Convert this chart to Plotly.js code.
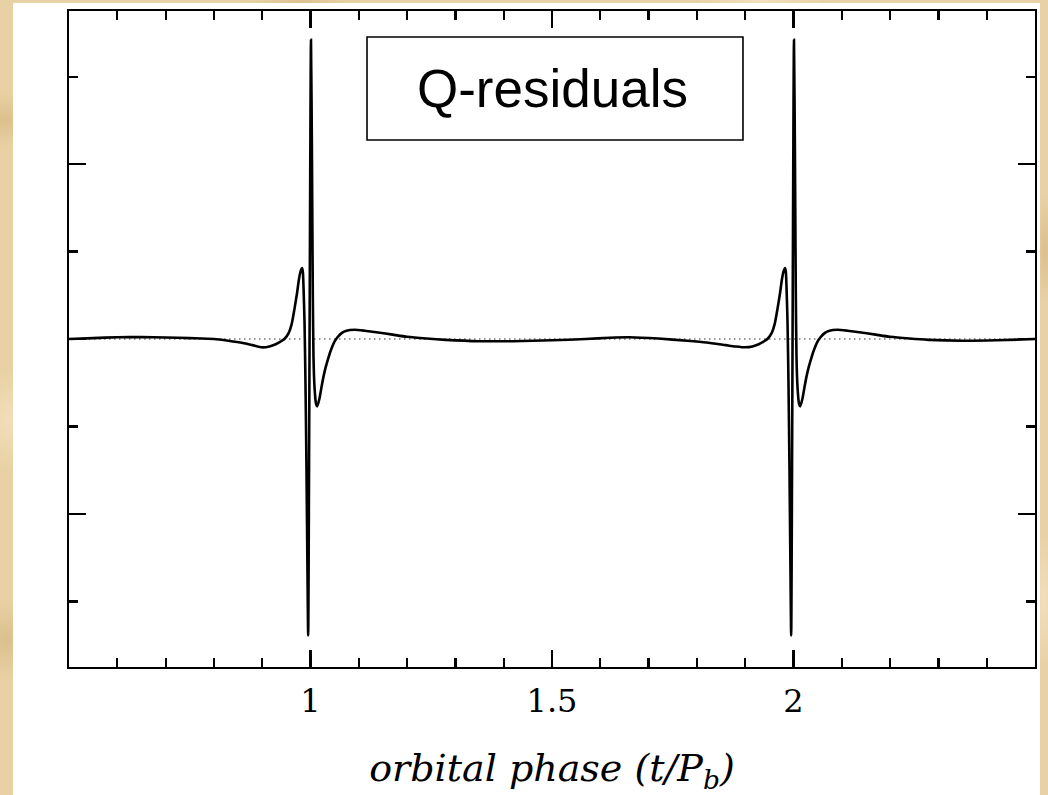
<!DOCTYPE html>
<html>
<head>
<meta charset="utf-8">
<script src="https://cdn.plot.ly/plotly-3.0.1.min.js"></script>
<style>
  html, body { margin: 0; padding: 0; }
  body {
    width: 1048px; height: 795px; overflow: hidden; position: relative;
    background-color: #e8d2a5;
    background-image:
      radial-gradient(ellipse 60px 40px at 5px 120px, rgba(205,170,110,0.45), rgba(205,170,110,0) 70%),
      radial-gradient(ellipse 40px 70px at 8px 420px, rgba(245,228,195,0.7), rgba(245,228,195,0) 70%),
      radial-gradient(ellipse 50px 60px at 6px 640px, rgba(200,165,105,0.4), rgba(200,165,105,0) 70%),
      radial-gradient(ellipse 80px 20px at 300px 2px, rgba(210,178,120,0.5), rgba(210,178,120,0) 70%),
      radial-gradient(ellipse 90px 20px at 760px 1px, rgba(246,230,198,0.7), rgba(246,230,198,0) 70%),
      radial-gradient(ellipse 20px 80px at 1045px 250px, rgba(205,170,112,0.45), rgba(205,170,112,0) 70%),
      radial-gradient(ellipse 20px 90px at 1044px 600px, rgba(246,230,198,0.7), rgba(246,230,198,0) 70%);
  }
  #sheet { position: absolute; left: 13px; top: 3px; width: 1027px; height: 792px; background: #ffffff; }
  #chart { position: absolute; left: 0; top: 0; width: 1048px; height: 795px; }
</style>
</head>
<body>
<div id="sheet"></div>
<div id="chart"></div>
<script>
// orbital phase (t/Pb)
const phase = [
  0.50, 0.55, 0.60, 0.65, 0.70, 0.75, 0.80, 0.83, 0.86, 0.88, 0.90, 0.915, 0.928, 0.938, 0.946,
  0.955, 0.961, 0.967, 0.972, 0.976, 0.9793, 0.9828, 0.9843, 0.9855, 0.9876, 0.9896, 0.9917, 0.9938, 0.9952,
  1.0010, 1.0031, 1.0048, 1.0062, 1.0083, 1.0114, 1.0139, 1.0186, 1.0228, 1.0269, 1.0311, 1.0352, 1.0414, 1.0497, 1.0559,
  1.0650, 1.0745, 1.0911, 1.1118, 1.14, 1.17, 1.20, 1.24, 1.28, 1.35, 1.42, 1.50, 1.57, 1.62, 1.66, 1.72,
  1.78, 1.82, 1.86, 1.88, 1.90, 1.915, 1.928, 1.938, 1.946,
  1.955, 1.961, 1.967, 1.972, 1.976, 1.9793, 1.9828, 1.9843, 1.9855, 1.9876, 1.9896, 1.9917, 1.9938, 1.9952,
  2.0010, 2.0031, 2.0048, 2.0062, 2.0083, 2.0114, 2.0139, 2.0186, 2.0228, 2.0269, 2.0311, 2.0352, 2.0414, 2.0497, 2.0559,
  2.0650, 2.0745, 2.0911, 2.1118, 2.14, 2.17, 2.20, 2.24, 2.28, 2.35, 2.42, 2.50
];
// Q-residuals (arbitrary units)
const residual = [
  0.000, 0.010, 0.020, 0.022, 0.018, 0.010, 0.000, -0.020, -0.045, -0.070, -0.095, -0.085, -0.060, -0.030, 0.000,
  0.070, 0.170, 0.350, 0.520, 0.680, 0.770, 0.810, 0.760, 0.600, 0.200, -0.500, -1.500, -2.700, -3.390,
  3.420, 2.000, 0.500, -0.200, -0.550, -0.740, -0.770, -0.680, -0.550, -0.430, -0.330, -0.250, -0.140, -0.030, 0.020,
  0.070, 0.095, 0.105, 0.095, 0.075, 0.050, 0.025, 0.005, -0.010, -0.025, -0.025, -0.015, 0.000, 0.015, 0.020, 0.005,
  -0.020, -0.040, -0.070, -0.085, -0.095, -0.085, -0.060, -0.030, 0.000,
  0.070, 0.170, 0.350, 0.520, 0.680, 0.770, 0.810, 0.760, 0.600, 0.200, -0.500, -1.500, -2.700, -3.390,
  3.420, 2.000, 0.500, -0.200, -0.550, -0.740, -0.770, -0.680, -0.550, -0.430, -0.330, -0.250, -0.140, -0.030, 0.020,
  0.070, 0.095, 0.105, 0.095, 0.075, 0.050, 0.025, 0.005, -0.010, -0.020, -0.015, 0.000
];
const xTickVals = [1, 1.5, 2];
const xTickText = ['1', '1.5', '2'];
const labelText = 'Q-residuals';
const xTitle = '<i>orbital phase (t/P<sub>b</sub>)</i>';

const trace = {
  x: phase, y: residual, type: 'scatter', mode: 'lines',
  line: { color: '#000000', width: 2.6, shape: 'spline', smoothing: 0.6 },
  hoverinfo: 'skip'
};

const axisCommon = {
  showline: true, linecolor: '#000000', linewidth: 2.4, mirror: 'ticks',
  showgrid: false, zeroline: false,
  ticks: 'inside', ticklen: 17, tickwidth: 2.2, tickcolor: '#000000'
};

const layout = {
  width: 1048, height: 795,
  margin: { l: 69, r: 13, t: 11, b: 128 },
  paper_bgcolor: 'rgba(0,0,0,0)',
  plot_bgcolor: '#ffffff',
  showlegend: false,
  xaxis: Object.assign({}, axisCommon, {
    range: [0.5, 2.5],
    tickmode: 'array', tickvals: xTickVals, ticktext: xTickText,
    tickfont: { family: 'DejaVu Serif', size: 32, color: '#000000' },
    ticklabelstandoff: 4,
    minor: { tickmode: 'linear', tick0: 0.5, dtick: 0.1, ticks: 'inside', ticklen: 9, tickwidth: 2.2, tickcolor: '#000000', showgrid: false },
    title: { text: xTitle, font: { family: 'DejaVu Serif', size: 38, color: '#000000' }, standoff: 40 }
  }),
  yaxis: Object.assign({}, axisCommon, {
    range: [-3.75, 3.75],
    tickmode: 'linear', tick0: 0, dtick: 2,
    showticklabels: false,
    minor: { tickmode: 'linear', tick0: 0, dtick: 1, ticks: 'inside', ticklen: 9, tickwidth: 2.2, tickcolor: '#000000', showgrid: false }
  }),
  shapes: [
    { type: 'line', xref: 'paper', yref: 'y', x0: 0, x1: 1, y0: 0, y1: 0, layer: 'below',
      line: { color: '#333333', width: 1.2, dash: '1.5px,3.5px' } },
    { type: 'rect', xref: 'paper', yref: 'paper', x0: 0.3085, x1: 0.6977, y0: 0.8034, y1: 0.9604,
      line: { color: '#000000', width: 1.6 }, fillcolor: '#ffffff' }
  ],
  annotations: [
    { xref: 'paper', yref: 'paper', x: 0.5, y: 0.8819, xanchor: 'center', yanchor: 'middle',
      text: labelText, showarrow: false,
      font: { family: 'Liberation Sans, Arial, sans-serif', size: 53, color: '#000000' } }
  ]
};

Plotly.newPlot('chart', [trace], layout, { staticPlot: true, displayModeBar: false });
</script>
</body>
</html>
